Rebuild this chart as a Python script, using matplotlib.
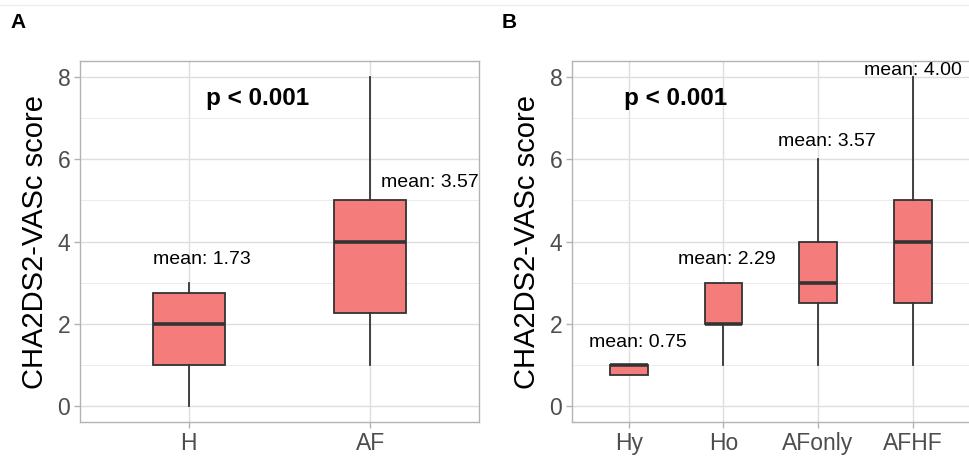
import matplotlib
matplotlib.use("Agg")
import matplotlib.pyplot as plt
from matplotlib.lines import Line2D

plt.rcParams['font.family'] = ['Liberation Sans', 'DejaVu Sans']

# Panel A: two groups
groups_a = ["H", "AF"]
stats_a = [
    # (whisker_low, q1, median, q3, whisker_high)
    (0, 1.0, 2.0, 2.75, 3),
    (1, 2.25, 4.0, 5.0, 8),
]
means_a = [1.73, 3.57]

# Panel B: four groups
groups_b = ["Hy", "Ho", "AFonly", "AFHF"]
stats_b = [
    (0.75, 0.75, 1.0, 1.0, 1.0),
    (1, 2.0, 2.0, 3.0, 3),
    (1, 2.5, 3.0, 4.0, 6),
    (1, 2.5, 4.0, 5.0, 8),
]
means_b = [0.75, 2.29, 3.57, 4.00]

# mean label placement (x offset in category units, y in score units)
label_pos_a = [(0.07, 3.55), (0.33, 5.43)]
label_pos_b = [(0.10, 1.53), (0.04, 3.55), (0.09, 6.43), (0.0, 8.17)]

FILL = "#F47C7A"
EDGE = "#333333"
GRID = "#DEDEDE"
BORDER = "#B3B3B3"
TICKTXT = "#4D4D4D"

W, H = 969, 461
fig = plt.figure(figsize=(W / 100, H / 100), dpi=100)


def draw_panel(ax, groups, stats, means, label_pos, p_xy, tag, tag_x):
    n = len(groups)
    xs = list(range(1, n + 1))
    ax.set_xlim(0.4, n + 0.6)
    ax.set_ylim(-0.4, 8.4)
    ax.set_yticks([0, 2, 4, 6, 8])
    ax.set_yticks([1, 3, 5, 7], minor=True)
    ax.grid(True, which='major', color=GRID, linewidth=1.0, zorder=0)
    ax.grid(True, which='minor', axis='y', color="#EBEBEB", linewidth=0.7, zorder=0)
    ax.set_axisbelow(True)
    for s in ax.spines.values():
        s.set_color(BORDER)
        s.set_linewidth(1.0)
    ax.tick_params(which='major', length=4, width=1.0, color=BORDER,
                   labelsize=16.5, labelcolor=TICKTXT, pad=3)
    ax.tick_params(which='minor', length=0)
    ax.set_ylabel("CHA2DS2-VASc score", fontsize=21, color="black", labelpad=6)

    bxp_stats = []
    for g, (lo, q1, med, q3, hi) in zip(groups, stats):
        bxp_stats.append(dict(label=g, whislo=lo, q1=q1, med=med, q3=q3,
                              whishi=hi, fliers=[]))
    ax.bxp(bxp_stats, positions=xs, widths=0.4, patch_artist=True,
           showcaps=False, showfliers=False,
           boxprops=dict(facecolor=FILL, edgecolor=EDGE, linewidth=1.3),
           whiskerprops=dict(color=EDGE, linewidth=1.3),
           medianprops=dict(color=EDGE, linewidth=2.6, solid_capstyle='butt'),
           zorder=3)
    ax.set_xticks(xs)
    ax.set_xticklabels(groups)

    for x, m, (dx, y) in zip(xs, means, label_pos):
        ax.text(x + dx, y, f"mean: {m:.2f}", ha='center', va='center',
                fontsize=14, color='black', zorder=5)

    ax.text(p_xy[0], p_xy[1], "p < 0.001", ha='center', va='center',
            fontsize=17.5, fontweight='bold', color='black', zorder=5)

    fig.text(tag_x, 1 - 22 / H, tag, ha='left', va='center',
             fontsize=15, fontweight='bold')


ax_a = fig.add_axes([80 / W, 39 / H, 399 / W, 361 / H])
draw_panel(ax_a, groups_a, stats_a, means_a, label_pos_a, (1.38, 7.49), "A", 10 / W)

ax_b = fig.add_axes([572 / W, 39 / H, 397.5 / W, 361 / H])
draw_panel(ax_b, groups_b, stats_b, means_b, label_pos_b, (1.49, 7.49), "B", 502 / W)

# thin rule across the top of the figure
fig.add_artist(Line2D([0, 1], [1 - 5.5 / H, 1 - 5.5 / H], color="#EEEEEE",
                      linewidth=1.0, transform=fig.transFigure))

fig.savefig("out.png", dpi=100)
